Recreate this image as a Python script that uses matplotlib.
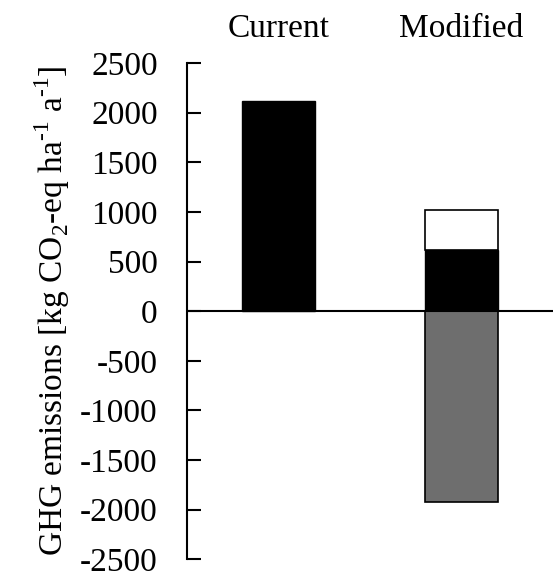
import matplotlib.pyplot as plt
import numpy as np

plt.rcParams['font.family'] = ['Liberation Serif', 'DejaVu Serif']
plt.rcParams['mathtext.fontset'] = 'custom'
plt.rcParams['mathtext.rm'] = 'Liberation Serif'
plt.rcParams['axes.unicode_minus'] = False

# data
categories = ['Current', 'Modified']
black_part = [2120, 620]
white_part = [0, 400]
gray_part = [0, -1920]
yticks = [2500, 2000, 1500, 1000, 500, 0, -500, -1000, -1500, -2000, -2500]

fig = plt.figure(figsize=(5.53, 5.79), dpi=100)
ax = fig.add_axes([0.338, 0.034, 0.662, 0.857])

x = np.arange(len(categories)) + 0.5
w = 0.4
ax.bar(x, black_part, w, color='black', edgecolor='black', linewidth=1)
ax.bar(x[1:], white_part[1:], w, bottom=black_part[1:], color='white',
       edgecolor='black', linewidth=1.2)
ax.bar(x[1:], gray_part[1:], w, color='#6e6e6e', edgecolor='black', linewidth=1.2)

ax.axhline(0, color='black', linewidth=1.5)

ax.set_xlim(0, 2)
ax.set_ylim(-2500, 2500)
ax.set_yticks(yticks)
ax.set_yticklabels([str(t) for t in yticks])
ax.tick_params(axis='y', direction='in', length=10, width=1.5, labelsize=24, pad=21)

ax.xaxis.tick_top()
ax.set_xticks(x)
ax.set_xticklabels(categories)
ax.tick_params(axis='x', length=0, labelsize=24, pad=14)

for s in ['top', 'right', 'bottom']:
    ax.spines[s].set_visible(False)
ax.spines['left'].set_linewidth(1.5)

ax.set_ylabel(r'GHG emissions [kg CO$_{2}$-eq ha$^{\text{-1}}$ a$^{\text{-1}}$]',
              fontsize=24, labelpad=6)

fig.savefig('out.png', dpi=100)
